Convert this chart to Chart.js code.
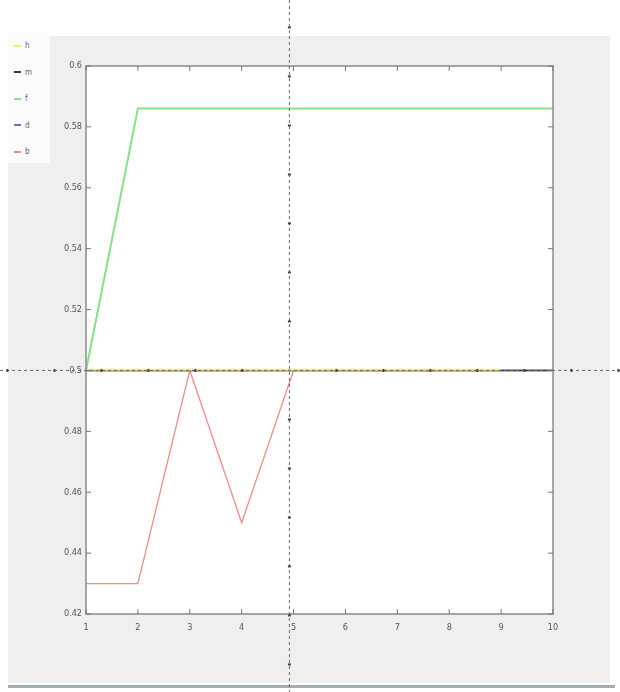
<!DOCTYPE html>
<html>
<head>
<meta charset="utf-8">
<script src="https://cdn.jsdelivr.net/npm/chart.js@4"></script>
<style>
  html, body { margin: 0; padding: 0; background: #ffffff; }
  #wrap { position: relative; width: 620px; height: 692px; overflow: hidden; }
  #c { position: absolute; left: 0; top: 0; }
  #legend { position: absolute; left: 8px; top: 33px; width: 42px; height: 130px; background: #fbfbfb;
            font-family: "Liberation Sans Narrow", "DejaVu Sans Condensed", "Liberation Sans", sans-serif;
            font-size: 8px; color: #666; }
  #legend .item { position: absolute; left: 6px; height: 10px; line-height: 10px; white-space: nowrap; }
  #legend .sw { display: inline-block; width: 7px; height: 2px; vertical-align: middle; margin-right: 4px; }
</style>
</head>
<body>
<div id="wrap">
  <canvas id="c" width="620" height="692"></canvas>
  <div id="legend"></div>
</div>
<script>
// ---- data ----
const xValues = [1, 2, 3, 4, 5, 6, 7, 8, 9, 10];
const seriesNames = ['h', 'm', 'f', 'd', 'b'];
const hValues = [0.5002, 0.5002, 0.5002, 0.5002, 0.5002, 0.5002, 0.5002, 0.5002, 0.5002, null];
const mValues = [0.5, 0.5, 0.5, 0.5, 0.5, 0.5, 0.5, 0.5, 0.5, 0.5];
const fValues = [0.5, 0.586, 0.586, 0.586, 0.586, 0.586, 0.586, 0.586, 0.586, 0.586];
const dValues = [0.5, 0.5, 0.5, 0.5, 0.5, 0.5, 0.5, 0.5, 0.5, 0.5];
const bValues = [0.43, 0.43, 0.5, 0.45, 0.5, 0.5, 0.5, 0.5, 0.5, 0.5];
const yTickValues = [0.42, 0.44, 0.46, 0.48, 0.5, 0.52, 0.54, 0.56, 0.58, 0.6];
const xTickValues = [1, 2, 3, 4, 5, 6, 7, 8, 9, 10];
const crossX = 4.92;   // data position of the dashed vertical guide
const crossY = 0.5;    // data position of the dashed horizontal guide

const seriesValues = [hValues, mValues, fValues, dValues, bValues];
const seriesColors = ['#eded6a', '#3a3a3a', '#86e286', '#6a6ae0', '#ee8c8c'];
const seriesWidths = [2, 1.5, 2, 1.5, 1.3];

const toPts = vals => xValues.map((x, i) => ({ x: x, y: vals[i] }));

const datasets = seriesNames.map((name, i) => ({
  label: name,
  data: toPts(seriesValues[i]),
  borderColor: seriesColors[i],
  backgroundColor: seriesColors[i],
  borderWidth: seriesWidths[i],
  pointRadius: 0,
  tension: 0,
  fill: false,
  spanGaps: false,
  order: i
}));

// HTML legend
const leg = document.getElementById('legend');
seriesNames.forEach((name, i) => {
  const d = document.createElement('div');
  d.className = 'item';
  d.style.top = (8 + i * 26.5) + 'px';
  d.innerHTML = '<span class="sw" style="background:' + seriesColors[i] + '"></span>' + name;
  leg.appendChild(d);
});

const fmt = v => Number(Number(v).toFixed(2)).toString();

const figurePlugin = {
  id: 'figure',
  beforeDraw(chart) {
    const ctx = chart.ctx, a = chart.chartArea;
    ctx.save();
    ctx.fillStyle = '#ffffff';
    ctx.fillRect(0, 0, chart.width, chart.height);
    ctx.fillStyle = '#efefef';
    ctx.fillRect(8, 36, 602, 647);
    ctx.fillStyle = '#ffffff';
    ctx.fillRect(a.left, a.top, a.right - a.left, a.bottom - a.top);
    ctx.fillStyle = '#a3acb6';
    ctx.fillRect(8, 685, 607, 3);
    ctx.restore();
  },
  afterDraw(chart) {
    const ctx = chart.ctx, a = chart.chartArea;
    const xs = chart.scales.x, ys = chart.scales.y;
    ctx.save();
    ctx.strokeStyle = '#8a8a8a';
    ctx.lineWidth = 1.5;
    ctx.strokeRect(a.left, a.top, a.right - a.left, a.bottom - a.top);
    ctx.lineWidth = 1;
    ctx.strokeStyle = '#777';
    ctx.beginPath();
    xs.ticks.forEach(t => {
      const px = xs.getPixelForValue(t.value);
      ctx.moveTo(px, a.bottom); ctx.lineTo(px, a.bottom - 5);
      ctx.moveTo(px, a.top); ctx.lineTo(px, a.top + 5);
    });
    ys.ticks.forEach(t => {
      const py = ys.getPixelForValue(t.value);
      ctx.moveTo(a.left, py); ctx.lineTo(a.left + 5, py);
      ctx.moveTo(a.right, py); ctx.lineTo(a.right - 5, py);
    });
    ctx.stroke();
    const gx = xs.getPixelForValue(crossX), gy = ys.getPixelForValue(crossY);
    ctx.strokeStyle = '#6a6a6a';
    ctx.lineWidth = 1;
    ctx.setLineDash([3, 3]);
    ctx.beginPath();
    ctx.moveTo(gx, 0); ctx.lineTo(gx, chart.height);
    ctx.moveTo(0, gy); ctx.lineTo(chart.width, gy);
    ctx.stroke();
    ctx.setLineDash([]);
    ctx.fillStyle = '#444';
    for (let k = -8; k <= 7; k++) {
      const py = gy + k * 49;
      if (py > 0 && py < chart.height && k !== 0) {
        ctx.fillRect(gx - 1.5, py - 1, 3, 2);
      }
    }
    for (let k = -7; k <= 7; k++) {
      const px = gx + k * 47;
      if (px > 0 && px < chart.width && k !== 0) {
        ctx.fillRect(px - 1, gy - 1.5, 2, 3);
      }
    }
    ctx.restore();
  }
};

new Chart(document.getElementById('c'), {
  type: 'line',
  data: { datasets: datasets },
  options: {
    responsive: false,
    animation: false,
    devicePixelRatio: 1,
    layout: { padding: { left: 56, right: 67, top: 66, bottom: 48 } },
    plugins: { legend: { display: false }, tooltip: { enabled: false } },
    scales: {
      x: {
        type: 'linear',
        min: xTickValues[0],
        max: xTickValues[xTickValues.length - 1],
        afterFit: s => { s.height = 30; },
        afterBuildTicks: s => { s.ticks = xTickValues.map(v => ({ value: v })); },
        grid: { display: false, drawTicks: false },
        border: { display: false },
        ticks: {
          padding: 8,
          color: '#555',
          font: { family: '"Liberation Sans Narrow", "DejaVu Sans Condensed", sans-serif', size: 9 },
          callback: v => fmt(v),
          maxRotation: 0
        }
      },
      y: {
        type: 'linear',
        min: yTickValues[0],
        max: yTickValues[yTickValues.length - 1],
        afterFit: s => { s.width = 30; },
        afterBuildTicks: s => { s.ticks = yTickValues.map(v => ({ value: v })); },
        grid: { display: false, drawTicks: false },
        border: { display: false },
        ticks: {
          padding: 4,
          color: '#555',
          font: { family: '"Liberation Sans Narrow", "DejaVu Sans Condensed", sans-serif', size: 9 },
          callback: v => fmt(v)
        }
      }
    }
  },
  plugins: [figurePlugin]
});
</script>
</body>
</html>
